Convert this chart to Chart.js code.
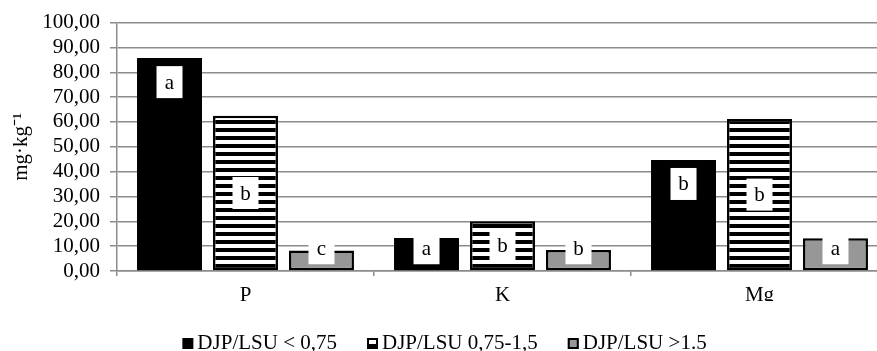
<!DOCTYPE html>
<html>
<head>
<meta charset="utf-8">
<script src="https://cdn.jsdelivr.net/npm/chart.js@4.4.1/dist/chart.umd.min.js"></script>
<style>
  html, body { margin: 0; padding: 0; overflow: hidden; background: #fff; }
  #wrap { width: 889px; height: 351px; position: relative; }
</style>
</head>
<body>
<div id="wrap"><canvas id="chart"></canvas></div>
<script>
const categories = ['P', 'K', 'Mg'];
const seriesNames = ['DJP/LSU < 0,75', 'DJP/LSU 0,75-1,5', 'DJP/LSU >1.5'];
const lowValues = [85.7, 13.3, 44.7];
const midValues = [62.5, 20.0, 61.2];
const highValues = [8.3, 8.5, 13.2];
const lowLetters = ['a', 'a', 'b'];
const midLetters = ['b', 'b', 'b'];
const highLetters = ['c', 'b', 'a'];
const yTicks = [0, 10, 20, 30, 40, 50, 60, 70, 80, 90, 100];

const FONT = "'Liberation Serif', 'Times New Roman', serif";
const FS = 21;
const GRID = '#8c8c8c';
const GREY = '#979797';

// horizontal stripe fill, like the excel pattern
function stripes() {
    const c = document.createElement('canvas');
    c.width = 8; c.height = 8;
    const g = c.getContext('2d');
    g.fillStyle = '#fff';
    g.fillRect(0, 0, 8, 8);
    g.fillStyle = '#000';
    g.fillRect(0, 0, 8, 4);
    return g.createPattern(c, 'repeat');
}

const ctx = document.getElementById('chart').getContext('2d');
const stripeFill = stripes();
const letters = [lowLetters, midLetters, highLetters];

// white boxes with the significance letters
const letterBoxes = {
    id: 'letterBoxes',
    afterDatasetsDraw(chart) {
        const c = chart.ctx;
        c.save();
        c.font = FS + 'px ' + FONT;
        c.textAlign = 'center';
        c.textBaseline = 'middle';
        chart.data.datasets.forEach((ds, di) => {
            chart.getDatasetMeta(di).data.forEach((bar, i) => {
                let cy = di === 0 ? bar.y + 24 : (bar.y + bar.base) / 2;
                if (cy > bar.base - 22) cy = bar.base - 22;
                c.fillStyle = '#fff';
                c.fillRect(bar.x - 13, cy - 16, 26, 32);
                c.fillStyle = '#000';
                c.fillText(letters[di][i], bar.x, cy + 1);
            });
        });
        c.restore();
    }
};

// legend drawn by hand so the spacing matches
const bottomLegend = {
    id: 'bottomLegend',
    afterDraw(chart) {
        const c = chart.ctx;
        c.save();
        c.font = FS + 'px ' + FONT;
        c.textBaseline = 'alphabetic';
        const box = 11, gap = 4, space = 30;
        const widths = seriesNames.map(n => c.measureText(n).width);
        const total = widths.reduce((s, w) => s + box + gap + w, 0) + space * (seriesNames.length - 1);
        let x = chart.width / 2 - total / 2;
        const base = 349;
        chart.data.datasets.forEach((ds, i) => {
            c.fillStyle = ds.backgroundColor;
            c.fillRect(x, base - box, box, box);
            if (ds.borderWidth) {
                c.strokeStyle = '#000';
                c.lineWidth = 2;
                c.strokeRect(x + 1, base - box + 1, box - 2, box - 2);
            }
            c.fillStyle = '#000';
            c.fillText(seriesNames[i], x + box + gap, base);
            x += box + gap + widths[i] + space;
        });
        c.restore();
    }
};

new Chart(ctx, {
    type: 'bar',
    data: {
        labels: categories,
        datasets: [
            { label: seriesNames[0], data: lowValues, backgroundColor: '#000', borderWidth: 0 },
            { label: seriesNames[1], data: midValues, backgroundColor: stripeFill, borderColor: '#000', borderWidth: 2.5, borderSkipped: false },
            { label: seriesNames[2], data: highValues, backgroundColor: GREY, borderColor: '#000', borderWidth: 2.5, borderSkipped: false }
        ]
    },
    options: {
        responsive: true,
        maintainAspectRatio: false,
        animation: false,
        categoryPercentage: 0.887,
        barPercentage: 0.855,
        layout: { padding: { top: 21, right: 1, bottom: 50, left: 0 } },
        plugins: {
            legend: { display: false },
            tooltip: { enabled: false }
        },
        scales: {
            x: {
                grid: { display: true, drawOnChartArea: false, drawTicks: true, tickLength: 5, offset: true, color: GRID, lineWidth: 1.5 },
                border: { color: GRID, width: 1.5 },
                ticks: { color: '#000', font: { family: FONT, size: FS }, padding: 7 },
                afterFit(scale) { scale.height = 30; }
            },
            y: {
                min: 0,
                max: 100,
                afterBuildTicks(scale) { scale.ticks = yTicks.map(v => ({ value: v })); },
                grid: { color: GRID, lineWidth: 1.5, tickLength: 7 },
                border: { color: GRID, width: 1.5 },
                ticks: {
                    color: '#000',
                    autoSkip: false,
                    font: { family: FONT, size: FS },
                    padding: 10,
                    callback: v => v.toFixed(2).replace('.', ',')
                },
                title: {
                    display: true,
                    text: 'mg·kg⁻¹',
                    color: '#000',
                    font: { family: FONT, size: FS },
                    padding: { top: 9, bottom: 0 }
                },
                afterFit(scale) { scale.width = 117; }
            }
        }
    },
    plugins: [letterBoxes, bottomLegend]
});
</script>
</body>
</html>
